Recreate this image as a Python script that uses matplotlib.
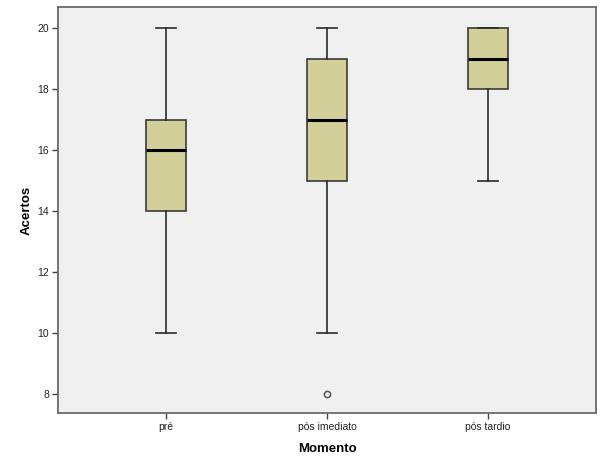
import matplotlib
matplotlib.use("Agg")
import matplotlib.pyplot as plt

categories = ["pré", "pós imediato", "pós tardio"]
mins = [10, 10, 15]
q1s = [14, 15, 18]
medians = [16, 17, 19]
q3s = [17, 19, 20]
maxs = [20, 20, 20]
outliers = [[], [8], []]
yticks = [8, 10, 12, 14, 16, 18, 20]

plt.rcParams['font.family'] = ['Liberation Sans', 'DejaVu Sans']

fig = plt.figure(figsize=(6.04, 4.71), dpi=100)
ax = fig.add_axes([58/604, 1-413/471, (596-58)/604, (413-7)/471])
ax.set_facecolor('#F0F0F0')

stats = []
for i, c in enumerate(categories):
    stats.append(dict(label=c, whislo=mins[i], q1=q1s[i], med=medians[i],
                      q3=q3s[i], whishi=maxs[i], fliers=outliers[i]))

ax.bxp(stats, positions=range(len(categories)), widths=0.25, capwidths=0.125,
       patch_artist=True,
       boxprops=dict(facecolor='#D3CF99', edgecolor='#3a3a3a', linewidth=1.2),
       medianprops=dict(color='black', linewidth=2.2),
       whiskerprops=dict(color='#2a2a2a', linewidth=1.2),
       capprops=dict(color='#2a2a2a', linewidth=1.2),
       flierprops=dict(marker='o', markersize=4.5, markerfacecolor='none',
                       markeredgecolor='#555555', markeredgewidth=1.1))

ax.set_xlim(-0.67, 2.67)
ax.set_ylim(7.38, 20.69)
ax.set_yticks(yticks)
ax.set_yticklabels([str(t) for t in yticks])
ax.set_xticks(range(len(categories)))
ax.set_xticklabels(categories)

for s in ax.spines.values():
    s.set_color('#6a6a6a')
    s.set_linewidth(1.3)
ax.tick_params(axis='both', direction='out', length=4.5, width=1.0,
               color='#444444', labelsize=7.5, labelcolor='#222222', pad=2)

ax.set_ylabel('Acertos', fontsize=9.5, fontweight='bold', labelpad=3)
ax.set_xlabel('Momento', fontsize=9.5, fontweight='bold', labelpad=8)

fig.savefig('out.png', dpi=100)
